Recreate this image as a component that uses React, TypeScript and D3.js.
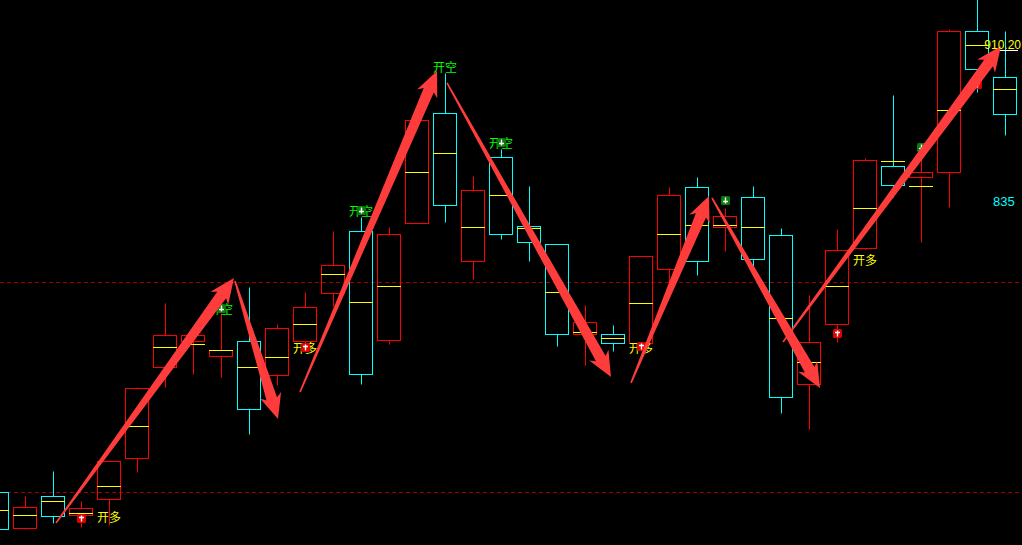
import React from "react";
import * as d3 from "d3";

// ---- data (slot index -1 .. 35) ----
const slots = d3.range(-1, 36);
const opens = [688.6, 670.6, 686.6, 677.1, 685.1, 705.7, 751.3, 764.3, 756.8, 764.3, 747.3, 764.3, 788.4, 819.5, 764.8, 823.5, 878.6, 804.4, 856.6, 822.0, 812.9, 767.8, 767.8, 763.3, 800.4, 841.5, 821.5, 836.5, 817.5, 742.8, 772.8, 810.9, 852.0, 846.5, 849.0, 919.7, 896.7];
const closes = [670.1, 681.1, 676.6, 680.6, 704.2, 740.7, 767.3, 767.3, 759.8, 730.2, 770.8, 781.4, 802.4, 747.8, 818.0, 875.1, 832.5, 840.0, 818.0, 813.9, 767.8, 773.8, 763.3, 806.9, 837.5, 804.4, 827.0, 805.4, 736.2, 763.8, 809.9, 855.1, 842.5, 849.0, 919.7, 900.7, 878.1];
const highs = [688.6, 686.6, 699.1, 684.1, 704.2, 741.3, 783.4, 767.3, 778.4, 791.4, 772.8, 788.9, 819.5, 826.5, 821.5, 875.1, 898.7, 847.0, 860.6, 842.0, 812.9, 782.4, 772.3, 806.9, 841.5, 846.5, 831.0, 842.0, 821.0, 787.4, 820.5, 856.1, 887.6, 860.1, 920.7, 937.8, 919.7];
const lows = [670.1, 670.1, 673.1, 671.1, 672.1, 698.6, 741.3, 747.8, 746.3, 717.7, 742.3, 759.8, 781.9, 742.8, 762.8, 823.5, 824.0, 795.4, 815.4, 804.4, 761.8, 752.3, 759.3, 763.3, 793.9, 797.4, 809.4, 801.4, 728.2, 720.2, 763.8, 810.4, 836.5, 813.9, 831.5, 889.1, 867.6];
const mids = [679.6, 677.1, 684.1, 678.1, 691.6, 721.7, 761.3, 762.8, 759.6, 751.3, 756.3, 772.8, 797.9, 783.9, 791.9, 849.0, 858.6, 821.5, 837.5, 821.0, 788.9, 768.8, 765.8, 783.4, 818.0, 822.5, 822.5, 821.5, 775.8, 753.8, 791.9, 831.0, 854.6, 842.0, 880.1, 912.7, 890.6];

// signals
const longIconSlots = [2, 10, 22, 29, 34];
const longIconPrices = [675.6, 761.3, 761.8, 768.3, 893.2];
const longLabelSlots = [3, 10, 22, 30];
const longLabelPrices = [675.6, 760.3, 760.3, 804.4];
const shortIconSlots = [7, 12, 17, 25, 32];
const shortIconPrices = [780.9, 830.0, 864.1, 835.0, 861.6];
const shortLabelSlots = [7, 12, 15, 17];
const shortLabelPrices = [779.9, 829.2, 901.2, 863.3];

// arrows: [fromSlot, fromPrice, toSlot, toPrice]
const arrowFrom = [[1.107, 673.1], [7.5, 794.4], [9.821, 738.7], [15.071, 893.7], [21.643, 743.3], [24.536, 836.0], [27.071, 763.8]];
const arrowTo = [[7.464, 795.9], [9.036, 725.2], [14.714, 899.7], [20.929, 746.3], [24.429, 837.0], [28.393, 740.7], [34.857, 912.2]];

// reference lines and price labels
const dashedPrices = [793.9, 688.6];
const lastPrice = 910.2;
const lastPriceLabel = "910.20";
const gridPrice = 835;
const gridPriceLabel = "835";

const W = 1022;
const H = 545;

const x = d3.scaleLinear().domain([-1, 35]).range([-3, 1005]);
const y = d3.scaleLinear().domain([835, 910.2]).range([200, 50]);

const RED = "#ff0000";
const CYAN = "#00ffff";
const YELLOW = "#ffff00";
const ARROW = "#ff3c3c";

const snap = (v: number) => Math.round(v) + 0.5;

function arrowPath(x0: number, y0: number, x1: number, y1: number) {
  const dx = x1 - x0, dy = y1 - y0;
  const L = Math.hypot(dx, dy);
  const ux = dx / L, uy = dy / L;
  const nx = -uy, ny = ux;
  const w0 = 0.8, ws = 5.5, hw = 11, hl = 25, notch = 4;
  const bx = x1 - ux * hl, by = y1 - uy * hl;
  const kx = x1 - ux * (hl - notch), ky = y1 - uy * (hl - notch);
  const pts: [number, number][] = [
    [x0 + nx * w0, y0 + ny * w0],
    [kx + nx * ws, ky + ny * ws],
    [bx + nx * hw, by + ny * hw],
    [x1, y1],
    [bx - nx * hw, by - ny * hw],
    [kx - nx * ws, ky - ny * ws],
    [x0 - nx * w0, y0 - ny * w0],
  ];
  return d3.line()(pts) + "Z";
}

export default function App() {
  const candles = slots.map((s, k) => {
    const o = opens[k], c = closes[k];
    const up = c > o;
    const color = up ? RED : CYAN;
    const cx = Math.round(x(s));
    const top = snap(y(Math.max(o, c)));
    const bot = snap(y(Math.min(o, c)));
    const hi = snap(y(highs[k]));
    const lo = snap(y(lows[k]));
    const mid = snap(y(mids[k]));
    return (
      <g key={s}>
        {hi < top && <line x1={cx + 0.5} x2={cx + 0.5} y1={hi} y2={top} stroke={color} />}
        {lo > bot && <line x1={cx + 0.5} x2={cx + 0.5} y1={bot} y2={lo} stroke={color} />}
        <rect x={cx - 11.5} y={top} width={23} height={Math.max(bot - top, 1)} fill="none" stroke={color} />
        <line x1={cx - 12} x2={cx + 12} y1={mid} y2={mid} stroke={YELLOW} />
      </g>
    );
  });

  return (
    <svg width={W} height={H} style={{ position: "absolute", left: 0, top: 0, background: "#000", display: "block" }}>
      <rect x={0} y={0} width={W} height={H} fill="#000" />
      {dashedPrices.map((p, i) => (
        <line key={i} x1={0} x2={W} y1={snap(y(p))} y2={snap(y(p))} stroke="#a00000" strokeDasharray="4,3" />
      ))}
      {candles}
      <line x1={1000} x2={1018} y1={snap(y(lastPrice))} y2={snap(y(lastPrice))} stroke="#ffffff" />
      {longLabelSlots.map((s, i) => (
        <text key={"ll" + i} x={x(s)} y={y(longLabelPrices[i])} dy="0.35em" textAnchor="middle" fill={YELLOW}
          fontFamily="'Noto Sans CJK SC', sans-serif" fontSize={12}>开多</text>
      ))}
      {shortLabelSlots.map((s, i) => (
        <text key={"sl" + i} x={x(s)} y={y(shortLabelPrices[i])} dy="0.35em" textAnchor="middle" fill="#00ff00"
          fontFamily="'Noto Sans CJK SC', sans-serif" fontSize={12}>开空</text>
      ))}
      {longIconSlots.map((s, i) => {
        const cx = Math.round(x(s)), cy = Math.round(y(longIconPrices[i]));
        return (
          <g key={"li" + i}>
            <rect x={cx - 4} y={cy - 4} width={9} height={9} rx={1.5} fill="#e00000" />
            <path d={`M${cx + 0.5},${cy - 2.5}V${cy + 3.5}M${cx - 2},${cy - 0.5}H${cx + 3}`} stroke="#fff" strokeWidth={1.4} />
          </g>
        );
      })}
      {shortIconSlots.map((s, i) => {
        const cx = Math.round(x(s)), cy = Math.round(y(shortIconPrices[i]));
        return (
          <g key={"si" + i}>
            <rect x={cx - 4} y={cy - 4} width={9} height={9} rx={1.5} fill="#0a7a0a" />
            <path d={`M${cx + 0.5},${cy - 2.5}V${cy + 3.5}M${cx - 2},${cy + 1.5}H${cx + 3}`} stroke="#fff" strokeWidth={1.4} />
          </g>
        );
      })}
      {arrowFrom.map((f, i) => (
        <path key={"a" + i} d={arrowPath(x(f[0]), y(f[1]), x(arrowTo[i][0]), y(arrowTo[i][1]))} fill={ARROW} />
      ))}
      <text x={1021} y={48.5} textAnchor="end" fill={YELLOW} fontFamily="'Liberation Sans', Arial, sans-serif" fontSize={12}>{lastPriceLabel}</text>
      <text x={993} y={205.5} fill={CYAN} fontFamily="'Liberation Sans', Arial, sans-serif" fontSize={13}>{gridPriceLabel}</text>
    </svg>
  );
}
